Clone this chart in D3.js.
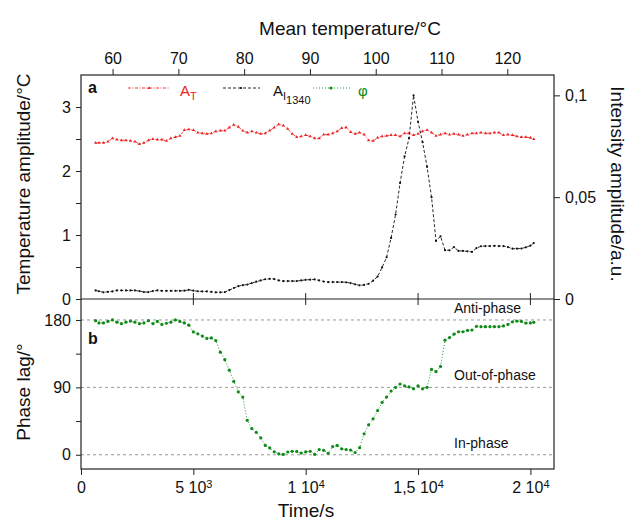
<!DOCTYPE html>
<html>
<head>
<meta charset="utf-8">
<script src="https://cdn.jsdelivr.net/npm/d3@7"></script>
<style>
  body { margin: 0; background: #fff; }
  svg text { font-family: "Liberation Sans", Arial, sans-serif; fill: #111; }
</style>
</head>
<body>
<div id="chart"></div>
<script>
// sample times (s)
const times = [
  650, 800, 1000, 1200, 1400, 1600, 1800, 2000, 2200, 2400,
  2600, 2800, 3000, 3200, 3400, 3600, 3800, 4000, 4200, 4400,
  4600, 4800, 5000, 5200, 5400, 5600, 5800, 6000, 6200, 6400,
  6600, 6800, 7000, 7200, 7400, 7600, 7800, 8000, 8200, 8400,
  8600, 8800, 9000, 9200, 9400, 9600, 9800, 10000, 10200, 10400,
  10600, 10800, 11000, 11200, 11400, 11600, 11800, 12000, 12200, 12400,
  12600, 12800, 13000, 13200, 13400, 13600, 13800, 14000, 14200, 14400,
  14600, 14800, 15000, 15200, 15400, 15600, 15800, 16000, 16200, 16400,
  16600, 16800, 17000, 17200, 17400, 17600, 17800, 18000, 18200, 18400,
  18600, 18800, 19000, 19200, 19400, 19600, 19800, 20000, 20150
];

// A_T, temperature amplitude (°C)
const tempAmp = [
  2.44, 2.44, 2.44, 2.46, 2.51, 2.49, 2.48, 2.48, 2.47, 2.46,
  2.42, 2.44, 2.48, 2.50, 2.49, 2.49, 2.47, 2.51, 2.53, 2.55,
  2.64, 2.65, 2.64, 2.60, 2.59, 2.58, 2.59, 2.62, 2.63, 2.63,
  2.68, 2.72, 2.69, 2.63, 2.60, 2.62, 2.60, 2.58, 2.59, 2.63,
  2.68, 2.73, 2.71, 2.66, 2.58, 2.53, 2.54, 2.56, 2.54, 2.51,
  2.51, 2.57, 2.57, 2.59, 2.62, 2.67, 2.68, 2.61, 2.58, 2.60,
  2.57, 2.48, 2.47, 2.52, 2.54, 2.55, 2.56, 2.56, 2.54, 2.59,
  2.59, 2.56, 2.58, 2.62, 2.64, 2.60, 2.55, 2.57, 2.59, 2.57,
  2.58, 2.57, 2.55, 2.57, 2.59, 2.59, 2.60, 2.59, 2.59, 2.60,
  2.60, 2.56, 2.57, 2.56, 2.54, 2.53, 2.53, 2.52, 2.50
];

// A_I1340, intensity amplitude (a.u.)
const intensityAmp = [
  0.0042, 0.0038, 0.0033, 0.0035, 0.0037, 0.0042, 0.0042, 0.0042, 0.0042, 0.0042,
  0.0039, 0.0034, 0.0034, 0.0039, 0.0042, 0.0040, 0.0040, 0.0040, 0.0040, 0.0040,
  0.0041, 0.0045, 0.0041, 0.0038, 0.0037, 0.0037, 0.0035, 0.0033, 0.0033, 0.0034,
  0.0044, 0.0054, 0.0063, 0.0068, 0.0071, 0.0078, 0.0085, 0.0091, 0.0097, 0.0099,
  0.0098, 0.0091, 0.0088, 0.0088, 0.0088, 0.0088, 0.0091, 0.0094, 0.0095, 0.0096,
  0.0091, 0.0086, 0.0083, 0.0083, 0.0083, 0.0083, 0.0082, 0.0078, 0.0072, 0.0067,
  0.0069, 0.0075, 0.0090, 0.0110, 0.0155, 0.0205, 0.0300, 0.0415, 0.0570, 0.0700,
  0.0790, 0.1000, 0.0870, 0.0770, 0.0650, 0.0500, 0.0285, 0.0308, 0.0240, 0.0239,
  0.0255, 0.0236, 0.0236, 0.0234, 0.0231, 0.0250, 0.0259, 0.0260, 0.0260, 0.0261,
  0.0260, 0.0260, 0.0255, 0.0247, 0.0247, 0.0248, 0.0254, 0.0262, 0.0275
];

// phase lag (degrees)
const phaseLag = [
  179, 176, 176, 178, 180, 177, 175, 177, 178.5, 177,
  175, 176, 179, 175, 178, 174, 175.6, 177, 180, 178,
  176, 173, 164, 161.5, 158.5, 155.4, 156, 152.5, 137, 127,
  113, 98, 84, 77, 46, 35, 30, 22.5, 12.5, 9.2,
  4, 1.3, 0.5, 3.7, 4.6, 4.5, 2.2, 3.8, 4.6, 0.5,
  7, 6, 2, 11, 12.5, 8, 7, 6.3, 3, 9.5,
  28, 40, 48, 59, 70, 77, 85, 90, 94.5, 92,
  90.6, 88, 92, 88, 90, 114, 111, 118, 153, 156.5,
  161, 164.3, 164.3, 166, 166.6, 171.5, 171, 171, 171, 171,
  171, 172, 174, 177.5, 178.5, 178, 175.8, 176, 176.8
];

const timeTicks = [0, 5000, 10000, 15000, 20000];
const timeTickMant = ["0", "5", "1", "1,5", "2"];
const timeTickExp = ["", "3", "4", "4", "4"];
const tempTicks = [60, 70, 80, 90, 100, 110, 120];
const tempAmpTicks = [0, 1, 2, 3];
const tempAmpMinor = [0.5, 1.5, 2.5];
const intensityTicks = [0, 0.05, 0.1];
const intensityTickLabels = ["0", "0,05", "0,1"];
const phaseTicks = [0, 90, 180];
const phaseMinor = [45, 135];
const phaseRefLabels = ["In-phase", "Out-of-phase", "Anti-phase"];

function drawChart() {
  const width = 628, height = 521;
  const left = 81, right = 554, top = 75, mid = 299, bottom = 469;
  const axisColor = '#222';
  const red = '#ee2222', green = '#0e8a16', black = '#111';

  const svg = d3.select('#chart').append('svg')
    .attr('width', width)
    .attr('height', height);

  // scales
  const x = d3.scaleLinear().domain([0, 21050]).range([left, right]);
  const xTemp = d3.scaleLinear().domain([55.2, 127.1]).range([left, right]);
  const yT = d3.scaleLinear().domain([0, 3.5]).range([mid, top]);
  const yI = d3.scaleLinear().domain([0, 0.110]).range([mid, top]);
  const yP = d3.scaleLinear().domain([-19, 208]).range([bottom, mid]);

  const styleAxis = g => {
    g.select('.domain').remove();
    g.selectAll('.tick line').attr('stroke', axisColor).attr('stroke-width', 1);
    g.selectAll('.tick text').attr('font-size', 16).attr('fill', '#111');
  };

  // reference lines in panel b
  svg.append('g').selectAll('line')
    .data(phaseTicks)
    .join('line')
    .attr('x1', left).attr('x2', right)
    .attr('y1', d => yP(d)).attr('y2', d => yP(d))
    .attr('stroke', '#999')
    .attr('stroke-width', 1)
    .attr('stroke-dasharray', '3,3');

  svg.append('g').selectAll('text')
    .data(phaseRefLabels)
    .join('text')
    .attr('x', 454)
    .attr('y', (d, i) => yP(phaseTicks[i]) - 7)
    .attr('font-size', 14)
    .text(d => d);

  // top axis: mean temperature
  svg.append('g')
    .attr('transform', `translate(0,${top})`)
    .call(d3.axisTop(xTemp).tickValues(tempTicks).tickSize(6).tickPadding(5))
    .call(styleAxis);

  // left axis panel a
  svg.append('g')
    .attr('transform', `translate(${left},0)`)
    .call(d3.axisLeft(yT).tickValues(tempAmpTicks).tickSize(5).tickPadding(5)
      .tickFormat(d3.format('d')))
    .call(styleAxis);
  svg.append('g')
    .attr('transform', `translate(${left},0)`)
    .call(d3.axisLeft(yT).tickValues(tempAmpMinor).tickSize(5).tickFormat(''))
    .call(styleAxis);

  // right axis panel a
  svg.append('g')
    .attr('transform', `translate(${right},0)`)
    .call(d3.axisRight(yI).tickValues(intensityTicks).tickSize(6).tickPadding(5)
      .tickFormat((d, i) => intensityTickLabels[i]))
    .call(styleAxis);

  // left axis panel b
  svg.append('g')
    .attr('transform', `translate(${left},0)`)
    .call(d3.axisLeft(yP).tickValues(phaseTicks).tickSize(5).tickPadding(5)
      .tickFormat(d3.format('d')))
    .call(styleAxis);
  svg.append('g')
    .attr('transform', `translate(${left},0)`)
    .call(d3.axisLeft(yP).tickValues(phaseMinor).tickSize(5).tickFormat(''))
    .call(styleAxis);

  // bottom axis: time
  svg.append('g')
    .attr('transform', `translate(0,${bottom})`)
    .call(d3.axisBottom(x).tickValues(timeTicks).tickSize(6).tickPadding(7))
    .call(styleAxis)
    .call(g => g.selectAll('.tick text').each(function(d, i) {
      const t = d3.select(this).text(null);
      t.append('tspan').text(timeTickMant[i] + (timeTickExp[i] ? ' 10' : ''));
      if (timeTickExp[i]) {
        t.append('tspan').attr('dy', '-0.45em').attr('font-size', 11).text(timeTickExp[i]);
      }
    }));

  // frame and the line between panels
  svg.append('rect')
    .attr('x', left).attr('y', top)
    .attr('width', right - left).attr('height', bottom - top)
    .attr('fill', 'none')
    .attr('stroke', axisColor)
    .attr('stroke-width', 1.2);

  svg.append('line')
    .attr('x1', left).attr('x2', right)
    .attr('y1', mid).attr('y2', mid)
    .attr('stroke', axisColor)
    .attr('stroke-width', 1.2);

  svg.append('g').selectAll('line')
    .data(timeTicks.slice(1))
    .join('line')
    .attr('x1', d => x(d)).attr('x2', d => x(d))
    .attr('y1', mid - 6).attr('y2', mid + 6)
    .attr('stroke', axisColor);

  // series
  const lineT = d3.line().x((d, i) => x(times[i])).y(d => yT(d));
  const lineI = d3.line().x((d, i) => x(times[i])).y(d => yI(d));
  const lineP = d3.line().x((d, i) => x(times[i])).y(d => yP(d));

  svg.append('path')
    .datum(tempAmp)
    .attr('d', lineT)
    .attr('fill', 'none')
    .attr('stroke', red)
    .attr('stroke-width', 0.8)
    .attr('stroke-dasharray', '3,1.5,1,1.5');

  svg.append('g').selectAll('path')
    .data(tempAmp)
    .join('path')
    .attr('d', d3.symbol(d3.symbolTriangle, 4.5))
    .attr('transform', (d, i) => `translate(${x(times[i])},${yT(d)})`)
    .attr('fill', red);

  svg.append('path')
    .datum(intensityAmp)
    .attr('d', lineI)
    .attr('fill', 'none')
    .attr('stroke', black)
    .attr('stroke-width', 0.9)
    .attr('stroke-dasharray', '3,2');

  svg.append('g').selectAll('circle')
    .data(intensityAmp)
    .join('circle')
    .attr('cx', (d, i) => x(times[i]))
    .attr('cy', d => yI(d))
    .attr('r', 1.1)
    .attr('fill', black);

  svg.append('path')
    .datum(phaseLag)
    .attr('d', lineP)
    .attr('fill', 'none')
    .attr('stroke', green)
    .attr('stroke-width', 0.9)
    .attr('stroke-dasharray', '1,2');

  svg.append('g').selectAll('circle')
    .data(phaseLag)
    .join('circle')
    .attr('cx', (d, i) => x(times[i]))
    .attr('cy', d => yP(d))
    .attr('r', 1.6)
    .attr('fill', green);

  // legend
  const legY = 88;
  const legendLine = (x1, x2, color, dash) => svg.append('line')
    .attr('x1', x1).attr('x2', x2)
    .attr('y1', legY).attr('y2', legY)
    .attr('stroke', color)
    .attr('stroke-width', 0.9)
    .attr('stroke-dasharray', dash);

  legendLine(128, 170, red, '3,1.5,1,1.5');
  svg.append('path')
    .attr('d', d3.symbol(d3.symbolTriangle, 4.5))
    .attr('transform', `translate(149,${legY})`)
    .attr('fill', red);
  const tA = svg.append('text').attr('x', 180).attr('y', 96).attr('font-size', 15).style('fill', red);
  tA.append('tspan').text('A');
  tA.append('tspan').attr('dy', 4).attr('font-size', 11).text('T');

  legendLine(223, 260, black, '3,2');
  svg.append('circle').attr('cx', 241).attr('cy', legY).attr('r', 1.1).attr('fill', black);
  const tI = svg.append('text').attr('x', 273).attr('y', 96).attr('font-size', 15);
  tI.append('tspan').text('A');
  tI.append('tspan').attr('dy', 4).attr('font-size', 11).text('I');
  tI.append('tspan').attr('dy', 4).attr('font-size', 11).text('1340');

  legendLine(313, 350, green, '1,2');
  svg.append('circle').attr('cx', 331).attr('cy', legY).attr('r', 1.6).attr('fill', green);
  svg.append('text').attr('x', 358).attr('y', 96).attr('font-size', 15)
    .style('fill', green).text('φ');

  // panel letters
  svg.append('text').attr('x', 88).attr('y', 93)
    .attr('font-size', 16).attr('font-weight', 'bold').text('a');
  svg.append('text').attr('x', 88).attr('y', 344)
    .attr('font-size', 16).attr('font-weight', 'bold').text('b');

  // axis titles
  svg.append('text')
    .attr('x', 350).attr('y', 35)
    .attr('text-anchor', 'middle')
    .attr('font-size', 19)
    .text('Mean temperature/°C');

  svg.append('text')
    .attr('x', 306).attr('y', 517)
    .attr('text-anchor', 'middle')
    .attr('font-size', 19)
    .text('Time/s');

  svg.append('text')
    .attr('transform', 'translate(30,184) rotate(-90)')
    .attr('text-anchor', 'middle')
    .attr('font-size', 19)
    .text('Temperature amplitude/°C');

  svg.append('text')
    .attr('transform', 'translate(30,392) rotate(-90)')
    .attr('text-anchor', 'middle')
    .attr('font-size', 19)
    .text('Phase lag/°');

  svg.append('text')
    .attr('transform', 'translate(611,184) rotate(90)')
    .attr('text-anchor', 'middle')
    .attr('font-size', 19)
    .text('Intensity amplitude/a.u.');
}

drawChart();
</script>
</body>
</html>
